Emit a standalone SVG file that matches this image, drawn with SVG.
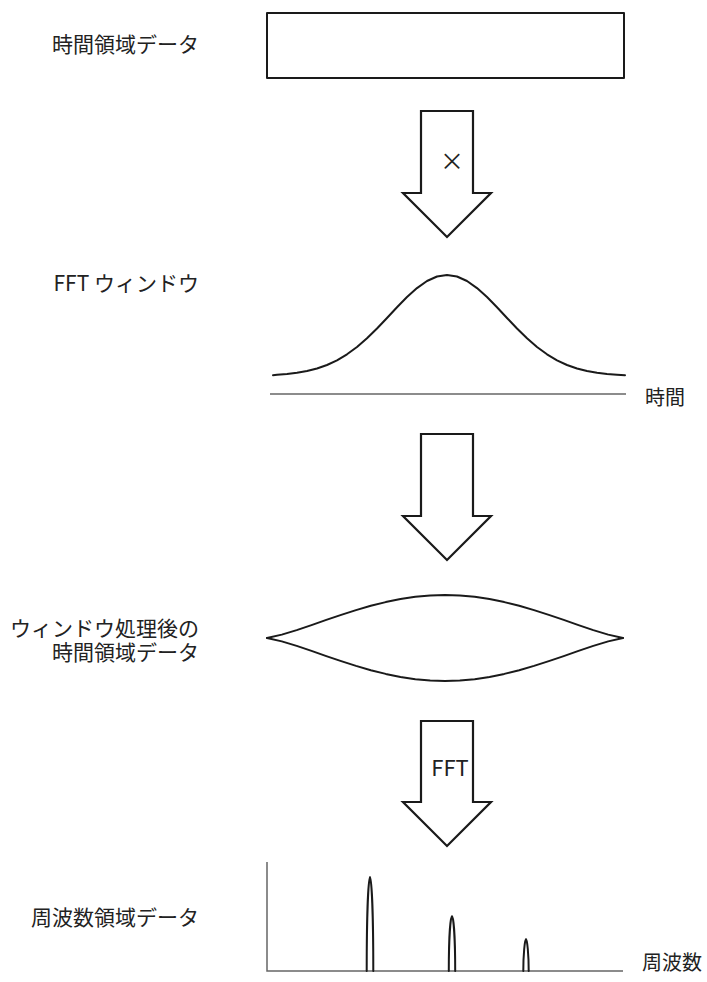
<svg xmlns="http://www.w3.org/2000/svg" width="707" height="982" viewBox="0 0 707 982">
<style>
.lbl{font-family:"Noto Sans CJK JP","Liberation Sans",sans-serif;font-size:21px;fill:#222;}
.ax{font-family:"Noto Sans CJK JP","Liberation Sans",sans-serif;font-size:20px;fill:#222;}
.shape{fill:none;stroke:#1a1a1a;stroke-width:2;stroke-linejoin:round;stroke-linecap:round;}
.arrow{fill:#fff;stroke:#1a1a1a;stroke-width:2.2;stroke-linejoin:miter;}
.axis{fill:none;stroke:#666;stroke-width:1.5;}
.inarrow{font-family:"Noto Sans CJK JP","Liberation Sans",sans-serif;fill:#222;text-anchor:middle;}
</style>
<rect width="707" height="982" fill="#fff"/>
<g id="labels">
<text class="lbl" x="199" y="52" text-anchor="end">時間領域データ</text>
<text class="lbl" x="199" y="291" text-anchor="end">FFT ウィンドウ</text>
<text class="lbl" text-anchor="end"><tspan x="199" y="635.5">ウィンドウ処理後の</tspan><tspan x="199" y="660">時間領域データ</tspan></text>
<text class="lbl" x="199" y="925" text-anchor="end">周波数領域データ</text>
</g>
<g id="time-data">
<rect class="shape" x="267" y="13" width="357" height="65"/>
</g>
<g id="fft-window">
<polyline class="shape" points="273,375.2 277,374.8 287,374 297,372.8 307,371 317,368.5 327,365 337,360.3 347,354.3 357,347 367,338.3 377,328.5 387,318 397,307.2 407,297 417,288.1 427,281 437,276.5 447,275 457,276.5 467,281 477,288.1 487,297 497,307.2 507,318 517,328.5 527,338.3 537,347 547,354.3 557,360.3 567,365 577,368.5 587,371 597,372.8 607,374 617,374.8 625,375.3"/>
<line class="axis" x1="270" y1="394" x2="626" y2="394"/>
<text class="ax" x="645" y="405">時間</text>
</g>
<g id="windowed-data">
<polyline class="shape" points="267,638 281.8,634.6 296.7,630.1 311.5,625.1 326.3,619.9 341.2,614.9 356,610.1 370.8,605.8 385.7,602.1 400.5,599.1 415.3,596.8 430.2,595.5 445,595 459.8,595.5 474.7,596.8 489.5,599.1 504.3,602.1 519.2,605.8 534,610.1 548.8,614.9 563.7,619.9 578.5,625.1 593.3,630.1 608.2,634.6 623,638"/>
<polyline class="shape" points="267,638 281.8,641.4 296.7,645.9 311.5,650.9 326.3,656.1 341.2,661.1 356,665.9 370.8,670.2 385.7,673.9 400.5,676.9 415.3,679.2 430.2,680.5 445,681 459.8,680.5 474.7,679.2 489.5,676.9 504.3,673.9 519.2,670.2 534,665.9 548.8,661.1 563.7,656.1 578.5,650.9 593.3,645.9 608.2,641.4 623,638"/>
</g>
<g id="freq-data">
<polyline class="axis" points="267,862 267,971 623,971"/>
<path class="shape" d="M366.7 971 C366.7 915 368.5 877 370 877 C371.5 877 373.3 915 373.3 971"/>
<path class="shape" d="M448.8 971 C448.8 940 450.5 916 452 916 C453.5 916 455.2 940 455.2 971"/>
<path class="shape" d="M523.3 971 C523.3 955 524.8 939 526 939 C527.2 939 528.7 955 528.7 971"/>
<text class="ax" x="642" y="970">周波数</text>
</g>
<g id="connectors">
<polygon class="arrow" points="421,111 473,111 473,193 491,193 447,237 403,193 421,193"/>
<text class="inarrow" x="452" y="170" font-size="24">×</text>
<polygon class="arrow" points="421,434 473,434 473,516 491,516 447,560 403,516 421,516"/>
<polygon class="arrow" points="421,721 473,721 473,802 491,802 447,846 403,802 421,802"/>
<text class="inarrow" x="450" y="776" font-size="22">FFT</text>
</g>
</svg>
